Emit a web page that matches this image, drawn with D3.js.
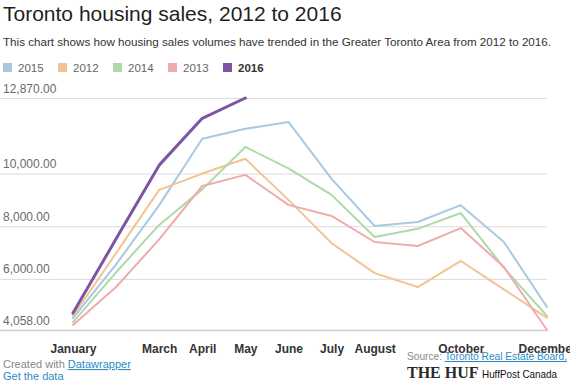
<!DOCTYPE html>
<html>
<head>
<meta charset="utf-8">
<script src="https://cdn.jsdelivr.net/npm/d3@7"></script>
<style>
  html, body { margin: 0; padding: 0; background: #fff; overflow: hidden; }
  svg { display: block; font-family: "Liberation Sans", Arial, Helvetica, sans-serif; }
</style>
</head>
<body>
<svg id="chart" width="570" height="381"></svg>
<script>
// ---- data ----
const months = ["January","February","March","April","May","June","July","August","September","October","November","December"];
const monthLabels = ["January","","March","April","May","June","July","August","","October","","December"];
const seriesNames = ["2015","2012","2014","2013","2016"];
const seriesColors = ["#a9c9e1","#f4c392","#aedaa9","#efabad","#7d55a5"];
const s2015 = [4510, 6550, 8800, 11320, 11700, 11960, 9800, 8010, 8160, 8800, 7400, 4930];
const s2012 = [4590, 6980, 9380, 10000, 10560, 9000, 7360, 6220, 5690, 6680, 5600, 4520];
const s2014 = [4360, 6250, 8050, 9400, 11010, 10200, 9190, 7590, 7900, 8500, 6420, 4590];
const s2013 = [4250, 5690, 7500, 9530, 9950, 8810, 8390, 7400, 7250, 7930, 6450, 4058];
const s2016 = [4700, 7520, 10320, 12100, 12870];
const yTicks = [4058, 6000, 8000, 10000, 12870];

const title = "Toronto housing sales, 2012 to 2016";
const subtitle = "This chart shows how housing sales volumes have trended in the Greater Toronto Area from 2012 to 2016.";

const series = [s2015, s2012, s2014, s2013, s2016];

// ---- drawing ----
const svg = d3.select("#chart");

svg.append("text").attr("x", 3).attr("y", 21)
  .attr("font-size", 21).attr("fill", "#1f1f1f").text(title);
svg.append("text").attr("x", 3).attr("y", 46)
  .attr("font-size", 11).attr("fill", "#333").attr("textLength", 548).attr("lengthAdjust","spacingAndGlyphs").text(subtitle);

// legend
const legendX = [3, 58, 113, 168, 223];
const lg = svg.append("g");
seriesNames.forEach((n, i) => {
  lg.append("rect").attr("x", legendX[i]).attr("y", 63).attr("width", 9).attr("height", 9)
    .attr("fill", seriesColors[i]);
  lg.append("text").attr("x", legendX[i] + 15).attr("y", 72)
    .attr("font-size", 11.5).attr("fill", i === 4 ? "#333" : "#666")
    .attr("font-weight", i === 4 ? "bold" : "normal").text(n);
});

const x = d3.scalePoint().domain(months).range([73, 547]);
const y = d3.scaleLinear().domain([4058, 12870]).range([330, 98]);

// y gridlines + labels
const yAxis = d3.axisRight(y).tickValues(yTicks).tickSize(547).tickFormat(d3.format(",.2f"));
const gy = svg.append("g").attr("transform", "translate(0,0)").call(yAxis);
gy.select(".domain").remove();
gy.selectAll(".tick line").attr("stroke", "#dcdcdc").attr("stroke-width", 1);
gy.selectAll(".tick text").attr("x", 3).attr("dy", -6).attr("text-anchor", "start")
  .attr("font-size", 12).attr("fill", "#6a6a6a").attr("font-family", "Liberation Sans, Arial, sans-serif");
gy.selectAll(".tick").filter(d => d === 4058).select("line").attr("stroke", "#d0d0d0").attr("stroke-width", 1.5);

// x axis labels
const xAxis = d3.axisBottom(x).tickSize(0).tickFormat((d, i) => monthLabels[i]);
const gx = svg.append("g").attr("transform", "translate(0,341)").call(xAxis);
gx.select(".domain").remove();
gx.selectAll(".tick text").attr("font-size", 12).attr("font-weight", "bold").attr("fill", "#333")
  .attr("font-family", "Liberation Sans, Arial, sans-serif").attr("dy", "0.71em");

// lines
const line = d3.line().x((d, i) => x(months[i])).y(d => y(d));
series.forEach((s, i) => {
  svg.append("path").datum(s).attr("d", line).attr("fill", "none")
    .attr("stroke", seriesColors[i]).attr("stroke-width", i === 4 ? 3 : 2)
    .attr("stroke-linejoin", "round").attr("stroke-linecap", "round");
});

// footer
const f1 = svg.append("text").attr("x", 3).attr("y", 368).attr("font-size", 11).attr("fill", "#888");
f1.append("tspan").text("Created with ");
f1.append("tspan").attr("fill", "#2b8cc4").attr("text-decoration", "underline").text("Datawrapper");
svg.append("text").attr("x", 3).attr("y", 380).attr("font-size", 11).attr("fill", "#2b8cc4")
  .attr("text-decoration", "underline").text("Get the data");

const f2 = svg.append("text").attr("x", 407).attr("y", 360).attr("font-size", 10.5).attr("fill", "#888")
  .attr("textLength", 160).attr("lengthAdjust", "spacingAndGlyphs");
f2.append("tspan").text("Source: ");
f2.append("tspan").attr("fill", "#2b8cc4").attr("text-decoration", "underline").text("Toronto Real Estate Board,");

svg.append("text").attr("x", 407).attr("y", 378).attr("font-size", 16).attr("font-weight", "bold")
  .attr("font-family", "Liberation Serif, Times New Roman, serif")
  .attr("fill", "#2a2a2a").text("THE HUFFINGTON POST");
svg.append("rect").attr("x", 479).attr("y", 366).attr("width", 91).attr("height", 15).attr("fill", "#fff");
svg.append("text").attr("x", 482).attr("y", 378).attr("font-size", 11.5).attr("fill", "#111")
  .attr("textLength", 75).attr("lengthAdjust", "spacingAndGlyphs").text("HuffPost Canada");
</script>
</body>
</html>
